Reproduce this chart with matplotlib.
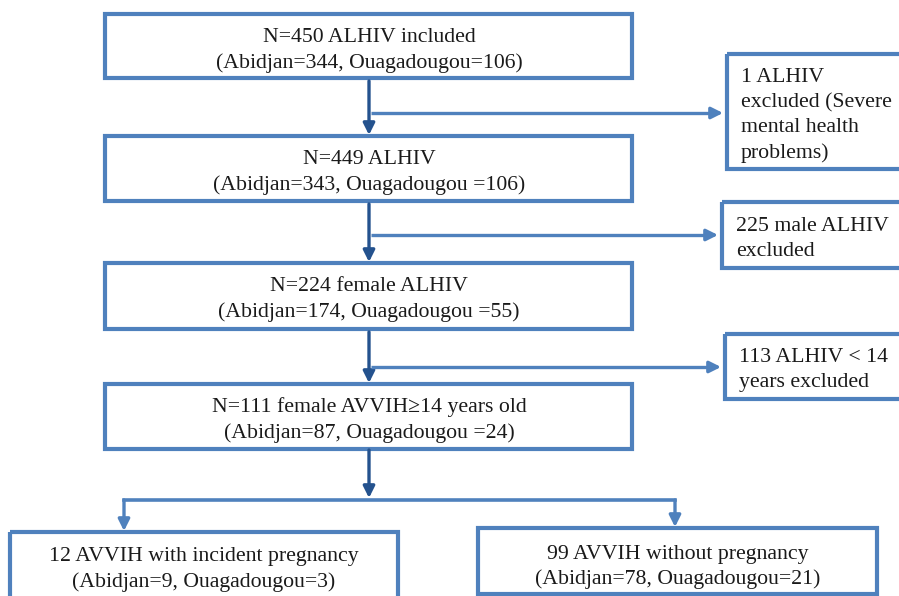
import matplotlib
matplotlib.use("Agg")
import matplotlib.pyplot as plt
from matplotlib.patches import Rectangle, FancyArrowPatch

# ---- data (flowchart text) ----
main_line1 = ["N=450 ALHIV included", "N=449 ALHIV", "N=224 female ALHIV",
              "N=111 female AVVIH\u226514 years old"]
main_line2 = ["(Abidjan=344, Ouagadougou=106)", "(Abidjan=343, Ouagadougou =106)",
              "(Abidjan=174, Ouagadougou =55)", "(Abidjan=87, Ouagadougou =24)"]
excluded_labels = [["1 ALHIV", "excluded (Severe", "mental health", "problems)"],
                   ["225 male ALHIV", "excluded"],
                   ["113 ALHIV < 14", "years excluded"]]
outcome_line1 = ["12 AVVIH with incident pregnancy", "99 AVVIH without pregnancy"]
outcome_line2 = ["(Abidjan=9, Ouagadougou=3)", "(Abidjan=78, Ouagadougou=21)"]

BOX = "#4F81BD"
DARK = "#24528E"
FONT = ["Liberation Serif", "DejaVu Serif"]
FS = 15.7
TXT = "#1a1a1a"

fig = plt.figure(figsize=(8.99, 5.96), dpi=100)
ax = fig.add_axes([0, 0, 1, 1])
ax.set_xlim(0, 899)
ax.set_ylim(596, 0)
ax.axis("off")

def box(x0, y0, x1, y1):
    ax.add_patch(Rectangle((x0, y0), x1 - x0, y1 - y0, fill=False,
                           edgecolor=BOX, linewidth=3.0, joinstyle="miter"))

def arrow(p0, p1, color):
    ax.add_patch(FancyArrowPatch(p0, p1, arrowstyle="-|>", mutation_scale=17,
                                 color=color, linewidth=2.4, shrinkA=0, shrinkB=0))

# main boxes
main_boxes = [(105, 14, 632, 78), (105, 136, 632, 201), (105, 263, 632, 329), (105, 384, 632, 449)]
cx = 369
for (x0, y0, x1, y1), t1, t2 in zip(main_boxes, main_line1, main_line2):
    box(x0, y0, x1, y1)
    ax.text(cx, y0 + 23.5, t1, ha="center", va="center", fontsize=FS, family=FONT, color=TXT)
    ax.text(cx, y0 + 49.5, t2, ha="center", va="center", fontsize=FS, family=FONT, color=TXT)

# vertical arrows between main boxes
for (a, b) in zip(main_boxes[:-1], main_boxes[1:]):
    arrow((cx, a[3] + 3), (cx, b[1] - 1), DARK)

# exclusion boxes
excl_boxes = [(727, 54, 910, 169), (722, 202, 910, 268), (725, 334, 910, 399)]
excl_y = [113, 235, 367]
for (x0, y0, x1, y1), lines, ay in zip(excl_boxes, excluded_labels, excl_y):
    box(x0, y0, x1, y1)
    n = len(lines)
    start = (y0 + y1) / 2 - (n - 1) * 25 / 2 + 4
    for i, l in enumerate(lines):
        ax.text(x0 + 14, start + i * 25, l, ha="left", va="center",
                fontsize=FS, family=FONT, color=TXT)
    ax.plot([cx + 2, x0 - 12], [ay, ay], color=BOX, linewidth=2.4, solid_capstyle="butt")
    arrow((x0 - 14, ay), (x0 - 4, ay), BOX)

# bottom split
arrow((cx, 450), (cx, 498), DARK)
left_x, right_x, by = 124, 675, 500
ax.plot([left_x, right_x], [by, by], color=BOX, linewidth=2.6, solid_capstyle="projecting")
arrow((left_x, by), (left_x, 531), BOX)
arrow((right_x, by), (right_x, 527), BOX)

out_boxes = [(10, 532, 398, 600), (478, 528, 877, 594)]
out_offsets = [(24, 50), (26, 51)]
for (x0, y0, x1, y1), t1, t2, (o1, o2) in zip(out_boxes, outcome_line1, outcome_line2, out_offsets):
    box(x0, y0, x1, y1)
    c = (x0 + x1) / 2
    ax.text(c, y0 + o1, t1, ha="center", va="center", fontsize=FS, family=FONT, color=TXT)
    ax.text(c, y0 + o2, t2, ha="center", va="center", fontsize=FS, family=FONT, color=TXT)

fig.savefig("out.png", dpi=100, facecolor="white")
